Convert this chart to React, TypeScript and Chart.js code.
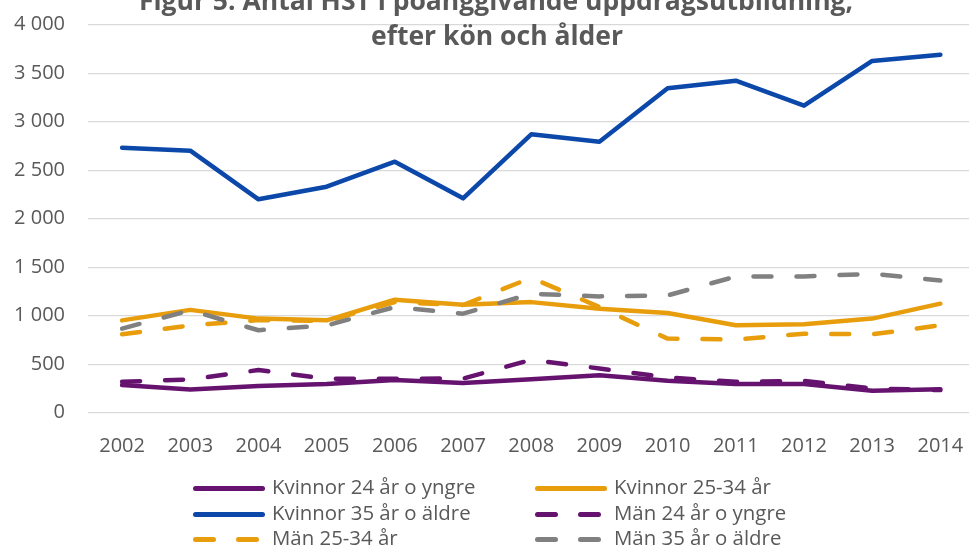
import React, { useEffect, useRef } from "react";
import { Chart, registerables } from "chart.js";

Chart.register(...registerables);

// ---- data ----
const titleLines = [
  "Figur 5. Antal HST i poänggivande uppdragsutbildning,",
  "efter kön och ålder",
];
const years = [2002, 2003, 2004, 2005, 2006, 2007, 2008, 2009, 2010, 2011, 2012, 2013, 2014];
const yTicks = [0, 500, 1000, 1500, 2000, 2500, 3000, 3500, 4000];

const kvinnor24 = [285, 240, 274, 295, 336, 305, 345, 387, 329, 295, 295, 226, 243];
const kvinnor2534 = [952, 1060, 970, 952, 1165, 1113, 1140, 1072, 1028, 901, 911, 970, 1124];
const kvinnor35 = [2732, 2701, 2200, 2330, 2588, 2210, 2870, 2794, 3344, 3423, 3165, 3626, 3691];
const man24 = [319, 343, 440, 350, 350, 352, 545, 456, 363, 319, 329, 250, 233];
const man2534 = [808, 900, 955, 945, 1140, 1110, 1391, 1089, 764, 754, 815, 808, 901];
const man35 = [867, 1055, 850, 900, 1089, 1021, 1226, 1199, 1209, 1404, 1404, 1432, 1363];

const seriesLabels = [
  "Kvinnor 24 år o yngre",
  "Kvinnor 25-34 år",
  "Kvinnor 35 år o äldre",
  "Män 24 år o yngre",
  "Män 25-34 år",
  "Män 35 år o äldre",
];

// ---- styles ----
const FONT = "'Open Sans', sans-serif";
const TEXT = "#595959";
const PURPLE = "#65136F";
const ORANGE = "#E79D0C";
const BLUE = "#0B48A9";
const GRAY = "#808080";
const DASH = [18, 25];

const fmt = (v: number) =>
  v >= 1000 ? `${Math.floor(v / 1000)} ${String(v % 1000).padStart(3, "0")}` : String(v);

const titlePlugin = {
  id: "titleOverlay",
  afterDraw(chart: any) {
    const ctx = chart.ctx;
    ctx.save();
    ctx.font = `bold 26.5px ${FONT}`;
    ctx.fillStyle = TEXT;
    ctx.textAlign = "center";
    ctx.textBaseline = "alphabetic";
    ctx.fillText(titleLines[0], 496, 10);
    ctx.fillText(titleLines[1], 497, 45);
    ctx.restore();
  },
};

const legendPlugin = {
  id: "gridLegend",
  afterDraw(chart: any) {
    const ctx = chart.ctx;
    const cols = [193, 535];
    const rows = [488.5, 514.5, 539.5];
    const lw = 5;
    ctx.save();
    chart.data.datasets.forEach((ds: any, i: number) => {
      const x0 = cols[i % 2];
      const y = rows[Math.floor(i / 2)];
      ctx.beginPath();
      ctx.strokeStyle = ds.borderColor;
      ctx.lineWidth = lw;
      ctx.lineCap = "round";
      ctx.setLineDash(ds.borderDash || []);
      ctx.moveTo(x0 + lw / 2, y);
      ctx.lineTo(x0 + 72 - lw / 2, y);
      ctx.stroke();
      ctx.setLineDash([]);
      ctx.font = `20.4px ${FONT}`;
      ctx.fillStyle = TEXT;
      ctx.textAlign = "left";
      ctx.textBaseline = "middle";
      ctx.fillText(ds.label, x0 + 79, y);
    });
    ctx.restore();
  },
};

export default function App() {
  const ref = useRef<HTMLCanvasElement>(null);

  useEffect(() => {
    document.body.style.margin = "0";
    const defs = [
      { data: kvinnor24, color: PURPLE, dash: false },
      { data: kvinnor2534, color: ORANGE, dash: false },
      { data: kvinnor35, color: BLUE, dash: false },
      { data: man24, color: PURPLE, dash: true },
      { data: man2534, color: ORANGE, dash: true },
      { data: man35, color: GRAY, dash: true },
    ];
    const chart = new Chart(ref.current as HTMLCanvasElement, {
      type: "line",
      data: {
        datasets: defs.map((d, i) => ({
          label: seriesLabels[i],
          data: years.map((yr, j) => ({ x: yr, y: d.data[j] })),
          borderColor: d.color,
          backgroundColor: d.color,
          borderWidth: 4.5,
          borderDash: d.dash ? DASH : [],
          borderCapStyle: "round",
          borderJoinStyle: "round",
          pointRadius: 0,
          pointHoverRadius: 0,
          tension: 0,
          fill: false,
          order: defs.length - i,
        })),
      },
      options: {
        animation: false,
        responsive: false,
        devicePixelRatio: 1,
        layout: { padding: { top: 24.7, left: 0, right: 0, bottom: 86.3 } },
        plugins: {
          legend: { display: false },
          title: { display: false },
          tooltip: { enabled: false },
        },
        scales: {
          x: {
            type: "linear",
            min: 2001.5,
            max: 2014.42,
            afterBuildTicks: (s: any) => {
              s.ticks = years.map((v) => ({ value: v }));
            },
            afterFit: (s: any) => {
              s.height = 50;
              s.paddingLeft = 0;
              s.paddingRight = 0;
              s.paddingTop = 0;
              s.paddingBottom = 0;
            },
            grid: { display: false },
            border: { display: false },
            ticks: {
              padding: 14,
              color: TEXT,
              font: { family: FONT, size: 20 },
              maxRotation: 0,
              autoSkip: false,
              callback: (v: any) => String(v),
            },
          },
          y: {
            min: 0,
            max: 4000,
            afterBuildTicks: (s: any) => {
              s.ticks = yTicks.map((v) => ({ value: v }));
            },
            afterFit: (s: any) => {
              s.width = 88;
              s.paddingLeft = 0;
              s.paddingRight = 0;
              s.paddingTop = 0;
              s.paddingBottom = 0;
            },
            grid: { color: "#D9D9D9", lineWidth: 1.2, drawTicks: false },
            border: { display: false },
            ticks: {
              padding: 23,
              color: TEXT,
              font: { family: FONT, size: 20 },
              callback: (v: any) => fmt(Number(v)),
            },
          },
        },
      },
      plugins: [titlePlugin, legendPlugin],
    } as any);
    return () => chart.destroy();
  }, []);

  return (
    <div style={{ width: 969, height: 549 }}>
      <canvas ref={ref} width={969} height={549} style={{ display: "block" }} />
    </div>
  );
}
